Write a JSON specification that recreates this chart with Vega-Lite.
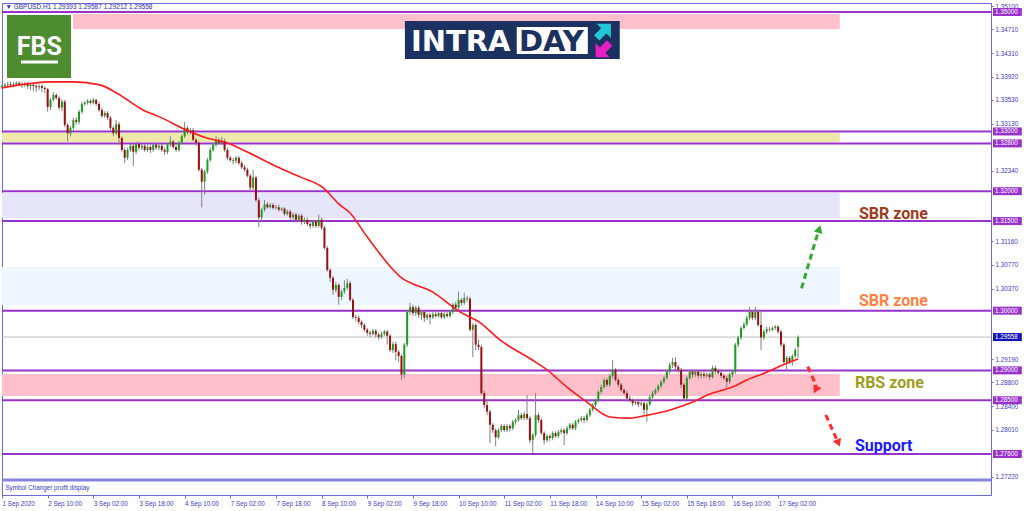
{
"$schema":"https://vega.github.io/schema/vega-lite/v6.json",
"width":989,"height":492,
"autosize":{"type":"none"},
"padding":{"left":2,"top":3,"right":33,"bottom":16},
"background":"#ffffff",
"config":{"view":{"stroke":"#6a6ad8","strokeWidth":1}},
"datasets":{
"candles":[
{"i":0,"o":1.3374,"h":1.3379,"l":1.3371,"c":1.3376},
{"i":1,"o":1.3376,"h":1.3381,"l":1.3373,"c":1.3378},
{"i":2,"o":1.3378,"h":1.3383,"l":1.3374,"c":1.3379},
{"i":3,"o":1.3379,"h":1.3383,"l":1.3374,"c":1.3378},
{"i":4,"o":1.3378,"h":1.3383,"l":1.3374,"c":1.3379},
{"i":5,"o":1.3379,"h":1.3384,"l":1.3376,"c":1.3381},
{"i":6,"o":1.3381,"h":1.3384,"l":1.3376,"c":1.3379},
{"i":7,"o":1.3379,"h":1.3383,"l":1.3373,"c":1.3378},
{"i":8,"o":1.3378,"h":1.3383,"l":1.3374,"c":1.3379},
{"i":9,"o":1.3379,"h":1.3383,"l":1.3371,"c":1.3376},
{"i":10,"o":1.3376,"h":1.3381,"l":1.3369,"c":1.3378},
{"i":11,"o":1.3378,"h":1.3381,"l":1.3367,"c":1.3376},
{"i":12,"o":1.3376,"h":1.3379,"l":1.3366,"c":1.3374},
{"i":13,"o":1.3374,"h":1.3379,"l":1.3369,"c":1.3376},
{"i":14,"o":1.3376,"h":1.3379,"l":1.3366,"c":1.3373},
{"i":15,"o":1.3373,"h":1.3376,"l":1.3364,"c":1.3371},
{"i":16,"o":1.3371,"h":1.3373,"l":1.3333,"c":1.3341},
{"i":17,"o":1.3341,"h":1.3356,"l":1.3336,"c":1.3353},
{"i":18,"o":1.3353,"h":1.3366,"l":1.3350,"c":1.3361},
{"i":19,"o":1.3361,"h":1.3364,"l":1.3353,"c":1.3356},
{"i":20,"o":1.3356,"h":1.3359,"l":1.3336,"c":1.3340},
{"i":21,"o":1.3340,"h":1.3354,"l":1.3334,"c":1.3350},
{"i":22,"o":1.3350,"h":1.3353,"l":1.3307,"c":1.3311},
{"i":23,"o":1.3311,"h":1.3314,"l":1.3283,"c":1.3297},
{"i":24,"o":1.3297,"h":1.3309,"l":1.3292,"c":1.3306},
{"i":25,"o":1.3306,"h":1.3323,"l":1.3302,"c":1.3319},
{"i":26,"o":1.3319,"h":1.3324,"l":1.3311,"c":1.3316},
{"i":27,"o":1.3316,"h":1.3336,"l":1.3312,"c":1.3333},
{"i":28,"o":1.3333,"h":1.3350,"l":1.3329,"c":1.3346},
{"i":29,"o":1.3346,"h":1.3351,"l":1.3343,"c":1.3348},
{"i":30,"o":1.3348,"h":1.3354,"l":1.3345,"c":1.3351},
{"i":31,"o":1.3351,"h":1.3354,"l":1.3345,"c":1.3348},
{"i":32,"o":1.3348,"h":1.3356,"l":1.3345,"c":1.3353},
{"i":33,"o":1.3353,"h":1.3354,"l":1.3343,"c":1.3346},
{"i":34,"o":1.3346,"h":1.3350,"l":1.3333,"c":1.3336},
{"i":35,"o":1.3336,"h":1.3340,"l":1.3323,"c":1.3326},
{"i":36,"o":1.3326,"h":1.3334,"l":1.3323,"c":1.3331},
{"i":37,"o":1.3331,"h":1.3334,"l":1.3319,"c":1.3323},
{"i":38,"o":1.3323,"h":1.3326,"l":1.3302,"c":1.3306},
{"i":39,"o":1.3306,"h":1.3309,"l":1.3292,"c":1.3297},
{"i":40,"o":1.3297,"h":1.3319,"l":1.3294,"c":1.3312},
{"i":41,"o":1.3312,"h":1.3316,"l":1.3278,"c":1.3289},
{"i":42,"o":1.3289,"h":1.3292,"l":1.3266,"c":1.3269},
{"i":43,"o":1.3269,"h":1.3273,"l":1.3247,"c":1.3256},
{"i":44,"o":1.3256,"h":1.3273,"l":1.3252,"c":1.3269},
{"i":45,"o":1.3269,"h":1.3279,"l":1.3266,"c":1.3276},
{"i":46,"o":1.3276,"h":1.3279,"l":1.3242,"c":1.3266},
{"i":47,"o":1.3266,"h":1.3283,"l":1.3262,"c":1.3279},
{"i":48,"o":1.3279,"h":1.3283,"l":1.3269,"c":1.3273},
{"i":49,"o":1.3273,"h":1.3279,"l":1.3269,"c":1.3276},
{"i":50,"o":1.3276,"h":1.3279,"l":1.3266,"c":1.3269},
{"i":51,"o":1.3269,"h":1.3278,"l":1.3266,"c":1.3274},
{"i":52,"o":1.3274,"h":1.3278,"l":1.3264,"c":1.3269},
{"i":53,"o":1.3269,"h":1.3281,"l":1.3266,"c":1.3278},
{"i":54,"o":1.3278,"h":1.3281,"l":1.3269,"c":1.3273},
{"i":55,"o":1.3273,"h":1.3279,"l":1.3269,"c":1.3276},
{"i":56,"o":1.3276,"h":1.3279,"l":1.3266,"c":1.3269},
{"i":57,"o":1.3269,"h":1.3273,"l":1.3261,"c":1.3266},
{"i":58,"o":1.3266,"h":1.3281,"l":1.3262,"c":1.3278},
{"i":59,"o":1.3278,"h":1.3292,"l":1.3274,"c":1.3283},
{"i":60,"o":1.3283,"h":1.3286,"l":1.3271,"c":1.3274},
{"i":61,"o":1.3274,"h":1.3278,"l":1.3266,"c":1.3269},
{"i":62,"o":1.3269,"h":1.3284,"l":1.3266,"c":1.3281},
{"i":63,"o":1.3281,"h":1.3295,"l":1.3278,"c":1.3292},
{"i":64,"o":1.3292,"h":1.3316,"l":1.3289,"c":1.3306},
{"i":65,"o":1.3306,"h":1.3309,"l":1.3295,"c":1.3299},
{"i":66,"o":1.3299,"h":1.3306,"l":1.3295,"c":1.3302},
{"i":67,"o":1.3302,"h":1.3306,"l":1.3283,"c":1.3286},
{"i":68,"o":1.3286,"h":1.3289,"l":1.3276,"c":1.3281},
{"i":69,"o":1.3281,"h":1.3284,"l":1.3233,"c":1.3236},
{"i":70,"o":1.3236,"h":1.3239,"l":1.3173,"c":1.3216},
{"i":71,"o":1.3216,"h":1.3236,"l":1.3194,"c":1.3233},
{"i":72,"o":1.3233,"h":1.3256,"l":1.3229,"c":1.3252},
{"i":73,"o":1.3252,"h":1.3273,"l":1.3249,"c":1.3269},
{"i":74,"o":1.3269,"h":1.3281,"l":1.3266,"c":1.3278},
{"i":75,"o":1.3278,"h":1.3292,"l":1.3274,"c":1.3286},
{"i":76,"o":1.3286,"h":1.3289,"l":1.3278,"c":1.3281},
{"i":77,"o":1.3281,"h":1.3291,"l":1.3278,"c":1.3284},
{"i":78,"o":1.3284,"h":1.3288,"l":1.3266,"c":1.3269},
{"i":79,"o":1.3269,"h":1.3273,"l":1.3252,"c":1.3256},
{"i":80,"o":1.3256,"h":1.3259,"l":1.3249,"c":1.3252},
{"i":81,"o":1.3252,"h":1.3256,"l":1.3245,"c":1.3251},
{"i":82,"o":1.3251,"h":1.3259,"l":1.3247,"c":1.3256},
{"i":83,"o":1.3256,"h":1.3259,"l":1.3244,"c":1.3247},
{"i":84,"o":1.3247,"h":1.3251,"l":1.3237,"c":1.3240},
{"i":85,"o":1.3240,"h":1.3244,"l":1.3233,"c":1.3236},
{"i":86,"o":1.3236,"h":1.3239,"l":1.3223,"c":1.3226},
{"i":87,"o":1.3226,"h":1.3229,"l":1.3202,"c":1.3206},
{"i":88,"o":1.3206,"h":1.3236,"l":1.3202,"c":1.3223},
{"i":89,"o":1.3223,"h":1.3226,"l":1.3182,"c":1.3185},
{"i":90,"o":1.3185,"h":1.3189,"l":1.3140,"c":1.3156},
{"i":91,"o":1.3156,"h":1.3172,"l":1.3152,"c":1.3169},
{"i":92,"o":1.3169,"h":1.3185,"l":1.3166,"c":1.3178},
{"i":93,"o":1.3178,"h":1.3182,"l":1.3171,"c":1.3173},
{"i":94,"o":1.3173,"h":1.3180,"l":1.3171,"c":1.3177},
{"i":95,"o":1.3177,"h":1.3180,"l":1.3169,"c":1.3172},
{"i":96,"o":1.3172,"h":1.3177,"l":1.3169,"c":1.3173},
{"i":97,"o":1.3173,"h":1.3177,"l":1.3166,"c":1.3169},
{"i":98,"o":1.3169,"h":1.3173,"l":1.3166,"c":1.3171},
{"i":99,"o":1.3171,"h":1.3173,"l":1.3159,"c":1.3162},
{"i":100,"o":1.3162,"h":1.3169,"l":1.3159,"c":1.3166},
{"i":101,"o":1.3166,"h":1.3169,"l":1.3152,"c":1.3156},
{"i":102,"o":1.3156,"h":1.3164,"l":1.3152,"c":1.3161},
{"i":103,"o":1.3161,"h":1.3164,"l":1.3149,"c":1.3152},
{"i":104,"o":1.3152,"h":1.3162,"l":1.3149,"c":1.3159},
{"i":105,"o":1.3159,"h":1.3162,"l":1.3144,"c":1.3149},
{"i":106,"o":1.3149,"h":1.3156,"l":1.3145,"c":1.3152},
{"i":107,"o":1.3152,"h":1.3156,"l":1.3142,"c":1.3145},
{"i":108,"o":1.3145,"h":1.3149,"l":1.3137,"c":1.3142},
{"i":109,"o":1.3142,"h":1.3152,"l":1.3139,"c":1.3149},
{"i":110,"o":1.3149,"h":1.3152,"l":1.3139,"c":1.3142},
{"i":111,"o":1.3142,"h":1.3161,"l":1.3139,"c":1.3152},
{"i":112,"o":1.3152,"h":1.3156,"l":1.3135,"c":1.3139},
{"i":113,"o":1.3139,"h":1.3142,"l":1.3102,"c":1.3105},
{"i":114,"o":1.3105,"h":1.3108,"l":1.3065,"c":1.3068},
{"i":115,"o":1.3068,"h":1.3071,"l":1.3048,"c":1.3055},
{"i":116,"o":1.3055,"h":1.3058,"l":1.3026,"c":1.3035},
{"i":117,"o":1.3035,"h":1.3048,"l":1.3030,"c":1.3043},
{"i":118,"o":1.3043,"h":1.3046,"l":1.3010,"c":1.3023},
{"i":119,"o":1.3023,"h":1.3035,"l":1.3018,"c":1.3032},
{"i":120,"o":1.3032,"h":1.3051,"l":1.3028,"c":1.3038},
{"i":121,"o":1.3038,"h":1.3053,"l":1.3035,"c":1.3046},
{"i":122,"o":1.3046,"h":1.3050,"l":1.3015,"c":1.3018},
{"i":123,"o":1.3018,"h":1.3021,"l":1.2986,"c":1.2989},
{"i":124,"o":1.2989,"h":1.2993,"l":1.2982,"c":1.2988},
{"i":125,"o":1.2988,"h":1.2991,"l":1.2977,"c":1.2981},
{"i":126,"o":1.2981,"h":1.2984,"l":1.2971,"c":1.2976},
{"i":127,"o":1.2976,"h":1.2979,"l":1.2965,"c":1.2968},
{"i":128,"o":1.2968,"h":1.2971,"l":1.2958,"c":1.2963},
{"i":129,"o":1.2963,"h":1.2966,"l":1.2956,"c":1.2961},
{"i":130,"o":1.2961,"h":1.2969,"l":1.2958,"c":1.2966},
{"i":131,"o":1.2966,"h":1.2969,"l":1.2955,"c":1.2960},
{"i":132,"o":1.2960,"h":1.2963,"l":1.2951,"c":1.2956},
{"i":133,"o":1.2956,"h":1.2965,"l":1.2953,"c":1.2961},
{"i":134,"o":1.2961,"h":1.2968,"l":1.2958,"c":1.2965},
{"i":135,"o":1.2965,"h":1.2968,"l":1.2943,"c":1.2958},
{"i":136,"o":1.2958,"h":1.2961,"l":1.2931,"c":1.2934},
{"i":137,"o":1.2934,"h":1.2948,"l":1.2929,"c":1.2944},
{"i":138,"o":1.2944,"h":1.2948,"l":1.2917,"c":1.2931},
{"i":139,"o":1.2931,"h":1.2934,"l":1.2914,"c":1.2924},
{"i":140,"o":1.2924,"h":1.2927,"l":1.2884,"c":1.2893},
{"i":141,"o":1.2893,"h":1.2946,"l":1.2887,"c":1.2943},
{"i":142,"o":1.2943,"h":1.3001,"l":1.2939,"c":1.2998},
{"i":143,"o":1.2998,"h":1.3013,"l":1.2993,"c":1.3006},
{"i":144,"o":1.3006,"h":1.3010,"l":1.2991,"c":1.2996},
{"i":145,"o":1.2996,"h":1.3008,"l":1.2991,"c":1.3005},
{"i":146,"o":1.3005,"h":1.3008,"l":1.2988,"c":1.2993},
{"i":147,"o":1.2993,"h":1.3001,"l":1.2984,"c":1.2998},
{"i":148,"o":1.2998,"h":1.3001,"l":1.2981,"c":1.2988},
{"i":149,"o":1.2988,"h":1.2996,"l":1.2984,"c":1.2993},
{"i":150,"o":1.2993,"h":1.2996,"l":1.2977,"c":1.2989},
{"i":151,"o":1.2989,"h":1.2998,"l":1.2986,"c":1.2994},
{"i":152,"o":1.2994,"h":1.2998,"l":1.2988,"c":1.2991},
{"i":153,"o":1.2991,"h":1.2999,"l":1.2988,"c":1.2996},
{"i":154,"o":1.2996,"h":1.2999,"l":1.2986,"c":1.2989},
{"i":155,"o":1.2989,"h":1.2998,"l":1.2986,"c":1.2994},
{"i":156,"o":1.2994,"h":1.2998,"l":1.2988,"c":1.2991},
{"i":157,"o":1.2991,"h":1.3001,"l":1.2988,"c":1.2998},
{"i":158,"o":1.2998,"h":1.3013,"l":1.2994,"c":1.3010},
{"i":159,"o":1.3010,"h":1.3015,"l":1.3001,"c":1.3005},
{"i":160,"o":1.3005,"h":1.3032,"l":1.3001,"c":1.3018},
{"i":161,"o":1.3018,"h":1.3021,"l":1.3008,"c":1.3013},
{"i":162,"o":1.3013,"h":1.3030,"l":1.3010,"c":1.3021},
{"i":163,"o":1.3021,"h":1.3025,"l":1.3015,"c":1.3020},
{"i":164,"o":1.3020,"h":1.3023,"l":1.2965,"c":1.2968},
{"i":165,"o":1.2968,"h":1.2979,"l":1.2922,"c":1.2976},
{"i":166,"o":1.2976,"h":1.2979,"l":1.2934,"c":1.2943},
{"i":167,"o":1.2943,"h":1.2951,"l":1.2934,"c":1.2939},
{"i":168,"o":1.2939,"h":1.2943,"l":1.2859,"c":1.2862},
{"i":169,"o":1.2862,"h":1.2866,"l":1.2837,"c":1.2842},
{"i":170,"o":1.2842,"h":1.2850,"l":1.2825,"c":1.2831},
{"i":171,"o":1.2831,"h":1.2834,"l":1.2778,"c":1.2809},
{"i":172,"o":1.2809,"h":1.2812,"l":1.2795,"c":1.2800},
{"i":173,"o":1.2800,"h":1.2803,"l":1.2773,"c":1.2788},
{"i":174,"o":1.2788,"h":1.2803,"l":1.2785,"c":1.2800},
{"i":175,"o":1.2800,"h":1.2810,"l":1.2797,"c":1.2807},
{"i":176,"o":1.2807,"h":1.2810,"l":1.2797,"c":1.2800},
{"i":177,"o":1.2800,"h":1.2810,"l":1.2797,"c":1.2807},
{"i":178,"o":1.2807,"h":1.2810,"l":1.2798,"c":1.2803},
{"i":179,"o":1.2803,"h":1.2817,"l":1.2800,"c":1.2814},
{"i":180,"o":1.2814,"h":1.2820,"l":1.2809,"c":1.2817},
{"i":181,"o":1.2817,"h":1.2834,"l":1.2814,"c":1.2825},
{"i":182,"o":1.2825,"h":1.2829,"l":1.2817,"c":1.2820},
{"i":183,"o":1.2820,"h":1.2831,"l":1.2817,"c":1.2827},
{"i":184,"o":1.2827,"h":1.2859,"l":1.2817,"c":1.2820},
{"i":185,"o":1.2820,"h":1.2824,"l":1.2778,"c":1.2783},
{"i":186,"o":1.2783,"h":1.2795,"l":1.2762,"c":1.2792},
{"i":187,"o":1.2792,"h":1.2862,"l":1.2788,"c":1.2825},
{"i":188,"o":1.2825,"h":1.2829,"l":1.2812,"c":1.2817},
{"i":189,"o":1.2817,"h":1.2820,"l":1.2792,"c":1.2795},
{"i":190,"o":1.2795,"h":1.2798,"l":1.2776,"c":1.2783},
{"i":191,"o":1.2783,"h":1.2793,"l":1.2780,"c":1.2790},
{"i":192,"o":1.2790,"h":1.2793,"l":1.2782,"c":1.2787},
{"i":193,"o":1.2787,"h":1.2798,"l":1.2783,"c":1.2795},
{"i":194,"o":1.2795,"h":1.2798,"l":1.2787,"c":1.2790},
{"i":195,"o":1.2790,"h":1.2800,"l":1.2787,"c":1.2797},
{"i":196,"o":1.2797,"h":1.2803,"l":1.2793,"c":1.2800},
{"i":197,"o":1.2800,"h":1.2803,"l":1.2775,"c":1.2795},
{"i":198,"o":1.2795,"h":1.2807,"l":1.2792,"c":1.2803},
{"i":199,"o":1.2803,"h":1.2812,"l":1.2800,"c":1.2809},
{"i":200,"o":1.2809,"h":1.2812,"l":1.2800,"c":1.2803},
{"i":201,"o":1.2803,"h":1.2817,"l":1.2800,"c":1.2814},
{"i":202,"o":1.2814,"h":1.2820,"l":1.2810,"c":1.2817},
{"i":203,"o":1.2817,"h":1.2824,"l":1.2814,"c":1.2820},
{"i":204,"o":1.2820,"h":1.2824,"l":1.2812,"c":1.2817},
{"i":205,"o":1.2817,"h":1.2829,"l":1.2814,"c":1.2825},
{"i":206,"o":1.2825,"h":1.2837,"l":1.2822,"c":1.2834},
{"i":207,"o":1.2834,"h":1.2845,"l":1.2831,"c":1.2842},
{"i":208,"o":1.2842,"h":1.2853,"l":1.2839,"c":1.2850},
{"i":209,"o":1.2850,"h":1.2867,"l":1.2847,"c":1.2864},
{"i":210,"o":1.2864,"h":1.2876,"l":1.2860,"c":1.2872},
{"i":211,"o":1.2872,"h":1.2887,"l":1.2869,"c":1.2884},
{"i":212,"o":1.2884,"h":1.2887,"l":1.2872,"c":1.2876},
{"i":213,"o":1.2876,"h":1.2894,"l":1.2872,"c":1.2891},
{"i":214,"o":1.2891,"h":1.2917,"l":1.2887,"c":1.2901},
{"i":215,"o":1.2901,"h":1.2904,"l":1.2881,"c":1.2884},
{"i":216,"o":1.2884,"h":1.2887,"l":1.2872,"c":1.2876},
{"i":217,"o":1.2876,"h":1.2879,"l":1.2864,"c":1.2867},
{"i":218,"o":1.2867,"h":1.2870,"l":1.2859,"c":1.2862},
{"i":219,"o":1.2862,"h":1.2866,"l":1.2850,"c":1.2853},
{"i":220,"o":1.2853,"h":1.2857,"l":1.2847,"c":1.2850},
{"i":221,"o":1.2850,"h":1.2853,"l":1.2840,"c":1.2845},
{"i":222,"o":1.2845,"h":1.2850,"l":1.2842,"c":1.2847},
{"i":223,"o":1.2847,"h":1.2850,"l":1.2839,"c":1.2843},
{"i":224,"o":1.2843,"h":1.2848,"l":1.2840,"c":1.2845},
{"i":225,"o":1.2845,"h":1.2848,"l":1.2824,"c":1.2834},
{"i":226,"o":1.2834,"h":1.2847,"l":1.2814,"c":1.2843},
{"i":227,"o":1.2843,"h":1.2859,"l":1.2840,"c":1.2855},
{"i":228,"o":1.2855,"h":1.2866,"l":1.2852,"c":1.2862},
{"i":229,"o":1.2862,"h":1.2870,"l":1.2859,"c":1.2867},
{"i":230,"o":1.2867,"h":1.2877,"l":1.2864,"c":1.2874},
{"i":231,"o":1.2874,"h":1.2884,"l":1.2870,"c":1.2881},
{"i":232,"o":1.2881,"h":1.2891,"l":1.2877,"c":1.2887},
{"i":233,"o":1.2887,"h":1.2901,"l":1.2884,"c":1.2898},
{"i":234,"o":1.2898,"h":1.2913,"l":1.2894,"c":1.2909},
{"i":235,"o":1.2909,"h":1.2921,"l":1.2904,"c":1.2914},
{"i":236,"o":1.2914,"h":1.2922,"l":1.2901,"c":1.2906},
{"i":237,"o":1.2906,"h":1.2909,"l":1.2896,"c":1.2901},
{"i":238,"o":1.2901,"h":1.2904,"l":1.2870,"c":1.2876},
{"i":239,"o":1.2876,"h":1.2879,"l":1.2850,"c":1.2853},
{"i":240,"o":1.2853,"h":1.2891,"l":1.2850,"c":1.2887},
{"i":241,"o":1.2887,"h":1.2901,"l":1.2884,"c":1.2898},
{"i":242,"o":1.2898,"h":1.2901,"l":1.2887,"c":1.2893},
{"i":243,"o":1.2893,"h":1.2901,"l":1.2889,"c":1.2898},
{"i":244,"o":1.2898,"h":1.2901,"l":1.2887,"c":1.2891},
{"i":245,"o":1.2891,"h":1.2898,"l":1.2887,"c":1.2894},
{"i":246,"o":1.2894,"h":1.2898,"l":1.2887,"c":1.2891},
{"i":247,"o":1.2891,"h":1.2896,"l":1.2887,"c":1.2893},
{"i":248,"o":1.2893,"h":1.2896,"l":1.2884,"c":1.2889},
{"i":249,"o":1.2889,"h":1.2908,"l":1.2886,"c":1.2904},
{"i":250,"o":1.2904,"h":1.2908,"l":1.2894,"c":1.2899},
{"i":251,"o":1.2899,"h":1.2903,"l":1.2893,"c":1.2896},
{"i":252,"o":1.2896,"h":1.2899,"l":1.2887,"c":1.2891},
{"i":253,"o":1.2891,"h":1.2894,"l":1.2884,"c":1.2887},
{"i":254,"o":1.2887,"h":1.2891,"l":1.2872,"c":1.2881},
{"i":255,"o":1.2881,"h":1.2896,"l":1.2877,"c":1.2893},
{"i":256,"o":1.2893,"h":1.2901,"l":1.2889,"c":1.2898},
{"i":257,"o":1.2898,"h":1.2946,"l":1.2894,"c":1.2943},
{"i":258,"o":1.2943,"h":1.2958,"l":1.2939,"c":1.2955},
{"i":259,"o":1.2955,"h":1.2974,"l":1.2951,"c":1.2971},
{"i":260,"o":1.2971,"h":1.2981,"l":1.2968,"c":1.2977},
{"i":261,"o":1.2977,"h":1.2991,"l":1.2974,"c":1.2988},
{"i":262,"o":1.2988,"h":1.3006,"l":1.2984,"c":1.2998},
{"i":263,"o":1.2998,"h":1.3001,"l":1.2984,"c":1.2988},
{"i":264,"o":1.2988,"h":1.3006,"l":1.2984,"c":1.2998},
{"i":265,"o":1.2998,"h":1.3001,"l":1.2973,"c":1.2976},
{"i":266,"o":1.2976,"h":1.3001,"l":1.2934,"c":1.2955},
{"i":267,"o":1.2955,"h":1.2968,"l":1.2951,"c":1.2965},
{"i":268,"o":1.2965,"h":1.2973,"l":1.2961,"c":1.2969},
{"i":269,"o":1.2969,"h":1.2973,"l":1.2965,"c":1.2968},
{"i":270,"o":1.2968,"h":1.2974,"l":1.2965,"c":1.2971},
{"i":271,"o":1.2971,"h":1.2976,"l":1.2968,"c":1.2973},
{"i":272,"o":1.2973,"h":1.2976,"l":1.2961,"c":1.2965},
{"i":273,"o":1.2965,"h":1.2968,"l":1.2939,"c":1.2943},
{"i":274,"o":1.2943,"h":1.2946,"l":1.2911,"c":1.2914},
{"i":275,"o":1.2914,"h":1.2924,"l":1.2901,"c":1.2921},
{"i":276,"o":1.2921,"h":1.2924,"l":1.2911,"c":1.2914},
{"i":277,"o":1.2914,"h":1.2927,"l":1.2908,"c":1.2924},
{"i":278,"o":1.2924,"h":1.2938,"l":1.2921,"c":1.2934},
{"i":279,"o":1.29393,"h":1.29587,"l":1.29212,"c":1.29558}
],
"ma":[
{"i":0,"p":1.3373},{"i":17.9,"p":1.3383},{"i":24.9,"p":1.3383},{"i":34.3,"p":1.3378},{"i":40.3,"p":1.3364},{"i":49.4,"p":1.3336},{"i":55.4,"p":1.3324},{"i":64.8,"p":1.3302},{"i":71.8,"p":1.3289},{"i":78.8,"p":1.3281},{"i":85.8,"p":1.3266},{"i":96.4,"p":1.3241},{"i":104.4,"p":1.3224},{"i":112.5,"p":1.3206},{"i":118.4,"p":1.3177},{"i":121.9,"p":1.3164},{"i":127.9,"p":1.3124},{"i":139.5,"p":1.3057},{"i":151,"p":1.3031},{"i":160.5,"p":1.2998},{"i":167.5,"p":1.298},{"i":174.5,"p":1.2951},{"i":186,"p":1.2917},{"i":191,"p":1.2901},{"i":198,"p":1.2872},{"i":205,"p":1.2847},{"i":213,"p":1.2822},{"i":220,"p":1.282},{"i":226,"p":1.2825},{"i":233,"p":1.2832},{"i":237.6,"p":1.2839},{"i":241,"p":1.2845},{"i":249,"p":1.2862},{"i":256,"p":1.2872},{"i":261,"p":1.2884},{"i":268,"p":1.2897},{"i":272.6,"p":1.2907},{"i":279,"p":1.2919}
],
"zones":[
{"z":"top","x1":24.9,"x2":293.6,"y1":1.34967,"y2":1.34715},
{"z":"yel","x1":0,"x2":293.6,"y1":1.32974,"y2":1.32824},
{"z":"lav","x1":0,"x2":293.6,"y1":1.3197,"y2":1.31551},
{"z":"blu","x1":0,"x2":293.6,"y1":1.30731,"y2":1.30095},
{"z":"rbs","x1":0,"x2":293.6,"y1":1.28939,"y2":1.28571}
],
"levels":[{"lv":1.35},{"lv":1.33},{"lv":1.328},{"lv":1.32},{"lv":1.315},{"lv":1.30},{"lv":1.29},{"lv":1.285},{"lv":1.276}],
"tags":[{"lv":1.35,"k":"p"},{"lv":1.33,"k":"p"},{"lv":1.328,"k":"p"},{"lv":1.32,"k":"p"},{"lv":1.315,"k":"p"},{"lv":1.30,"k":"p"},{"lv":1.29,"k":"p"},{"lv":1.285,"k":"p"},{"lv":1.276,"k":"p"},{"lv":1.29558,"k":"b"}],
"zonetext":[
{"t":"SBR zone","k":"a","i":300.3,"p":1.31618},
{"t":"SBR zone","k":"b","i":300.3,"p":1.30162},
{"t":"RBS zone","k":"c","i":298.9,"p":1.28797},
{"t":"Support","k":"d","i":298.9,"p":1.27742}
],
"arrows":[
{"a":"g","i":280.2,"p":1.30374},{"a":"g","i":285.9,"p":1.313},
{"a":"r1","i":282.4,"p":1.29062},{"a":"r1","i":285.4,"p":1.28739},
{"a":"r2","i":288.7,"p":1.28253},{"a":"r2","i":292.7,"p":1.27826}
],
"heads":[
{"a":"g","i":286.4,"p":1.31367},
{"a":"r1","i":285.8,"p":1.28697},
{"a":"r2","i":293.1,"p":1.27784}
]
},
"layer":[
{"data":{"name":"candles"},"mark":{"type":"bar","size":2},
 "encoding":{
  "x":{"field":"i","type":"quantitative","scale":{"domain":[0,346.6],"nice":false,"zero":false,"padding":0},
   "axis":{"orient":"bottom","title":null,"grid":false,"values":[0,16,32,48,64,80,96,112,128,144,160,176,192,208,224,240,256,272],
    "labelExpr":"['1 Sep 2020','2 Sep 10:00','3 Sep 02:00','3 Sep 18:00','4 Sep 10:00','7 Sep 02:00','7 Sep 18:00','8 Sep 10:00','9 Sep 02:00','9 Sep 18:00','10 Sep 10:00','11 Sep 02:00','11 Sep 18:00','14 Sep 10:00','15 Sep 02:00','15 Sep 18:00','16 Sep 10:00','17 Sep 02:00'][round(datum.value/16)]",
    "labelAlign":"left","labelBaseline":"top","labelFont":"Liberation Sans","labelFontSize":6.3,"labelColor":"#3c3cc8",
    "tickColor":"#6a6ad8","tickSize":3,"domainColor":"#6a6ad8","labelPadding":2,"labelOverlap":false,"labelFlush":false,"labelBound":false}},
  "y":{"field":"o","type":"quantitative","scale":{"domain":[1.269136,1.351507],"nice":false,"zero":false,"padding":0},
   "axis":{"orient":"right","title":null,"grid":false,"values":[1.351,1.3471,1.3431,1.3392,1.3353,1.3313,1.3234,1.3116,1.3077,1.3037,1.2919,1.288,1.284,1.2801,1.2722],
    "format":".5f","labelFont":"Liberation Sans","labelFontSize":6.3,"labelColor":"#3c3cc8","tickColor":"#6a6ad8","tickSize":2,
    "domainColor":"#6a6ad8","labelPadding":2,"labelOverlap":false,"labelFlush":false,"labelBound":false}},
  "y2":{"field":"c"},
  "color":{"value":"#ffffff"},"opacity":{"value":0}}},
{"data":{"name":"zones"},"mark":{"type":"rect"},
 "encoding":{
  "x":{"field":"x1","type":"quantitative","axis":null},"x2":{"field":"x2"},
  "y":{"field":"y1","type":"quantitative","axis":null},"y2":{"field":"y2"},
  "color":{"field":"z","type":"nominal","legend":null,"scale":{"domain":["top","yel","lav","blu","rbs"],"range":["#ffc0cb","#eee8aa","#e6e6fa","#eef6ff","#ffc0cb"]}}}},
{"data":{"values":[{"lv":1.29558}]},"mark":{"type":"rule","color":"#bdbdbd","strokeWidth":1},
 "encoding":{"y":{"field":"lv","type":"quantitative","axis":null}}},
{"data":{"name":"levels"},"mark":{"type":"rule","color":"#9932cc","strokeWidth":2},
 "encoding":{"y":{"field":"lv","type":"quantitative","axis":null}}},
{"data":{"values":[{"lv":1.271647}]},"mark":{"type":"rule","color":"#8585dc","strokeWidth":3},
 "encoding":{"y":{"field":"lv","type":"quantitative","axis":null}}},
{"data":{"name":"candles"},"mark":{"type":"rule","color":"#808080","strokeWidth":1},
 "encoding":{
  "x":{"field":"i","type":"quantitative","axis":null},
  "y":{"field":"l","type":"quantitative","axis":null},"y2":{"field":"h"}}},
{"data":{"name":"candles"},"mark":{"type":"bar","size":2},
 "encoding":{
  "x":{"field":"i","type":"quantitative","axis":null},
  "y":{"field":"o","type":"quantitative","axis":null},
  "y2":{"field":"c"},
  "color":{"condition":{"test":"datum.c >= datum.o","value":"#1c9c1c"},"value":"#9a1010"}}},
{"data":{"name":"ma"},"mark":{"type":"line","color":"#ff1a1a","strokeWidth":1.6,"interpolate":"monotone"},
 "encoding":{"x":{"field":"i","type":"quantitative","axis":null},"y":{"field":"p","type":"quantitative","axis":null}}},
{"data":{"name":"tags"},"mark":{"type":"rule","strokeWidth":8,"strokeCap":"butt"},
 "encoding":{"x":{"datum":347.3,"type":"quantitative","axis":null},"x2":{"datum":357.4},
  "y":{"field":"lv","type":"quantitative","axis":null},
  "color":{"field":"k","type":"nominal","legend":null,"scale":{"domain":["p","b"],"range":["#9932cc","#1414b4"]}}}},
{"data":{"name":"tags"},"mark":{"type":"text","align":"left","baseline":"middle","font":"Liberation Sans","fontSize":6.3,"color":"#ffffff"},
 "encoding":{"x":{"datum":348.0,"type":"quantitative","axis":null},"y":{"field":"lv","type":"quantitative","axis":null},
  "text":{"field":"lv","type":"quantitative","format":".5f"}}},
{"data":{"values":[{"t":"▼ GBPUSD,H1  1.29393 1.29587 1.29212 1.29558","i":1.2,"p":1.35084}]},
 "mark":{"type":"text","align":"left","baseline":"middle","font":"Liberation Sans","fontSize":6.5,"color":"#2a2ab4"},
 "encoding":{"x":{"field":"i","type":"quantitative","axis":null},"y":{"field":"p","type":"quantitative","axis":null},"text":{"field":"t"}}},
{"data":{"values":[{"t":"Symbol Changer profit display","i":1.2,"p":1.27031}]},
 "mark":{"type":"text","align":"left","baseline":"middle","font":"Liberation Sans","fontSize":6.3,"color":"#3a3ac8"},
 "encoding":{"x":{"field":"i","type":"quantitative","axis":null},"y":{"field":"p","type":"quantitative","axis":null},"text":{"field":"t"}}},
{"data":{"values":[{}]},"mark":{"type":"rect","color":"#4e8c32"},
 "encoding":{"x":{"datum":1.75,"type":"quantitative","axis":null},"x2":{"datum":24.2},"y":{"datum":1.3495,"type":"quantitative","axis":null},"y2":{"datum":1.33895}}},
{"data":{"values":[{"t":"FBS"}]},"mark":{"type":"text","align":"center","baseline":"alphabetic","font":"Roboto","fontWeight":"bold","fontSize":25,"color":"#ffffff"},
 "encoding":{"x":{"datum":13.1,"type":"quantitative","axis":null},"y":{"datum":1.3428,"type":"quantitative","axis":null},"text":{"field":"t"}}},
{"data":{"values":[{}]},"mark":{"type":"rule","color":"#ffffff","strokeWidth":3},
 "encoding":{"x":{"datum":6.66,"type":"quantitative","axis":null},"x2":{"datum":19.6},"y":{"datum":1.34163,"type":"quantitative","axis":null}}},
{"data":{"values":[{}]},"mark":{"type":"rect","color":"#1b3160"},
 "encoding":{"x":{"datum":141.2,"type":"quantitative","axis":null},"x2":{"datum":216.5},"y":{"datum":1.34849,"type":"quantitative","axis":null},"y2":{"datum":1.34213}}},
{"data":{"values":[{}]},"mark":{"type":"rect","color":"#ffffff"},
 "encoding":{"x":{"datum":180.4,"type":"quantitative","axis":null},"x2":{"datum":205.3},"y":{"datum":1.34749,"type":"quantitative","axis":null},"y2":{"datum":1.34297}}},
{"data":{"values":[{"t":"INTRA"}]},"mark":{"type":"text","align":"left","baseline":"alphabetic","font":"DejaVu Sans","fontWeight":"bold","fontSize":29,"color":"#ffffff"},
 "encoding":{"x":{"datum":143.3,"type":"quantitative","axis":null},"y":{"datum":1.34355,"type":"quantitative","axis":null},"text":{"field":"t"}}},
{"data":{"values":[{"t":"DAY"}]},"mark":{"type":"text","align":"left","baseline":"alphabetic","font":"DejaVu Sans","fontWeight":"bold","fontSize":29,"color":"#1b3160"},
 "encoding":{"x":{"datum":181.2,"type":"quantitative","axis":null},"y":{"datum":1.34355,"type":"quantitative","axis":null},"text":{"field":"t"}}},
{"data":{"values":[{"k":"c","i":210.9,"p":1.34685},{"k":"m","i":210.5,"p":1.34362}]},
 "mark":{"type":"point","shape":"M0,-1L1,0L0.38,0L0.38,1L-0.38,1L-0.38,0L-1,0Z","filled":true,"size":400,"opacity":1},
 "encoding":{"x":{"field":"i","type":"quantitative","axis":null},"y":{"field":"p","type":"quantitative","axis":null},
  "color":{"field":"k","type":"nominal","legend":null,"scale":{"domain":["c","m"],"range":["#22c7d6","#e61ec3"]}},
  "angle":{"field":"k","type":"nominal","legend":null,"scale":{"domain":["c","m"],"range":[45,225]}}}},
{"data":{"name":"zonetext"},"mark":{"type":"text","align":"left","baseline":"middle","font":"Roboto","fontWeight":"bold","fontSize":16},
 "encoding":{"x":{"field":"i","type":"quantitative","axis":null},"y":{"field":"p","type":"quantitative","axis":null},"text":{"field":"t"},
  "color":{"field":"k","type":"nominal","legend":null,"scale":{"domain":["a","b","c","d"],"range":["#a3391a","#ff8040","#9e9e1e","#1a1aff"]}}}},
{"data":{"name":"arrows"},"mark":{"type":"line","strokeWidth":3,"strokeDash":[6,4]},
 "encoding":{"x":{"field":"i","type":"quantitative","axis":null},"y":{"field":"p","type":"quantitative","axis":null},"detail":{"field":"a"},
  "color":{"field":"a","type":"nominal","legend":null,"scale":{"domain":["g","r1","r2"],"range":["#33aa33","#ff2a2a","#ff2a2a"]}}}},
{"data":{"name":"heads"},"mark":{"type":"point","shape":"triangle-up","filled":true,"size":80,"opacity":1},
 "encoding":{"x":{"field":"i","type":"quantitative","axis":null},"y":{"field":"p","type":"quantitative","axis":null},
  "color":{"field":"a","type":"nominal","legend":null,"scale":{"domain":["g","r1","r2"],"range":["#33aa33","#ff2a2a","#ff2a2a"]}},
  "angle":{"field":"a","type":"nominal","legend":null,"scale":{"domain":["g","r1","r2"],"range":[16.5,157.6,156.2]}}}}
],
"resolve":{"scale":{"color":"independent","angle":"independent"},"axis":{"x":"independent","y":"independent"}}
}
